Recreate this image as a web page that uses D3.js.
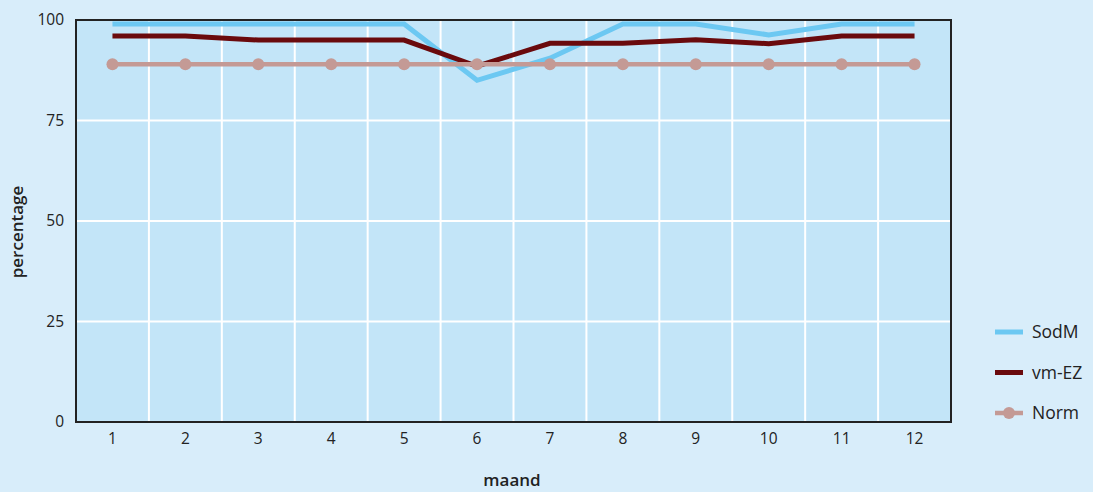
<!DOCTYPE html>
<html><head><meta charset="utf-8">
<script src="https://cdn.jsdelivr.net/npm/d3@7"></script>
<style>
html,body{margin:0;padding:0;background:#d8edfa;}
svg{display:block;font-family:"Open Sans","Noto Sans",sans-serif;}
</style></head>
<body><svg id="c" width="1093" height="492"></svg>
<script>
const months = [1,2,3,4,5,6,7,8,9,10,11,12];
const sodm = [99,99,99,99,99,85,90.5,99,99,96.3,99,99];
const vmez = [96,96,95,95,95,88.5,94.2,94.2,95.1,94.1,96,96];
const norm = [89,89,89,89,89,89,89,89,89,89,89,89];
const yTicks = [0,25,50,75,100];
const seriesNames = ["SodM","vm-EZ","Norm"];
const colors = ["#6cc8f2","#6a0a0d","#c49a95"];

const svg = d3.select("#c");
const L=76, R=951, T=20, B=422;
const x = d3.scaleBand().domain(months).range([L,R]);
const y = d3.scaleLinear().domain([0,100]).range([B,T]);

svg.append("rect").attr("x",L).attr("y",T).attr("width",R-L).attr("height",B-T).attr("fill","#c3e5f8");

// grid
svg.append("g").selectAll("line").data(months.slice(1)).join("line")
  .attr("x1",d=>x(d)).attr("x2",d=>x(d)).attr("y1",T).attr("y2",B)
  .attr("stroke","#fff").attr("stroke-width",2);
svg.append("g").selectAll("line").data(yTicks.slice(1,-1)).join("line")
  .attr("x1",L).attr("x2",R).attr("y1",d=>y(d)).attr("y2",d=>y(d))
  .attr("stroke","#fff").attr("stroke-width",2);

const cx = d => x(d)+x.bandwidth()/2;
const line = d3.line().x((d,i)=>cx(months[i])).y(d=>y(d));
const data=[sodm,vmez,norm];
data.forEach((s,k)=>{
  svg.append("path").datum(s).attr("d",line).attr("fill","none")
    .attr("stroke",colors[k]).attr("stroke-width",k==2?4.5:5).attr("stroke-linejoin","miter");
});
svg.append("g").selectAll("circle").data(norm).join("circle")
  .attr("cx",(d,i)=>cx(months[i])).attr("cy",d=>y(d)).attr("r",6).attr("fill",colors[2]);

// frame
svg.append("rect").attr("x",L).attr("y",T).attr("width",R-L).attr("height",B-T)
  .attr("fill","none").attr("stroke","#222").attr("stroke-width",2);

// axes
const yAx = svg.append("g").attr("transform",`translate(${L},0)`)
  .call(d3.axisLeft(y).tickValues(yTicks).tickSize(0).tickPadding(12));
yAx.select(".domain").remove();
yAx.selectAll("text").attr("font-size",15.5).attr("fill","#222").attr("font-family","Open Sans");
const xAx = svg.append("g").attr("transform",`translate(0,${B})`)
  .call(d3.axisBottom(x).tickSize(0).tickPadding(11));
xAx.select(".domain").remove();
xAx.selectAll("text").attr("font-size",15.5).attr("fill","#222").attr("font-family","Open Sans");

svg.append("text").attr("x",512).attr("y",486).attr("text-anchor","middle")
  .attr("font-size",17).attr("font-weight",600).attr("fill","#222").text("maand");
svg.append("text").attr("transform","translate(23,232) rotate(-90)").attr("text-anchor","middle")
  .attr("font-size",17).attr("font-weight",600).attr("fill","#222").text("percentage");

// legend
const lg = svg.append("g");
seriesNames.forEach((n,k)=>{
  const ly = 332 + k*40.5;
  lg.append("line").attr("x1",995).attr("x2",1023).attr("y1",ly).attr("y2",ly)
    .attr("stroke",colors[k]).attr("stroke-width",k==2?4.5:5);
  if(k==2) lg.append("circle").attr("cx",1009).attr("cy",ly).attr("r",6).attr("fill",colors[k]);
  lg.append("text").attr("x",1032).attr("y",ly+6).attr("font-size",17.5).attr("fill","#222").text(n);
});
</script></body></html>
